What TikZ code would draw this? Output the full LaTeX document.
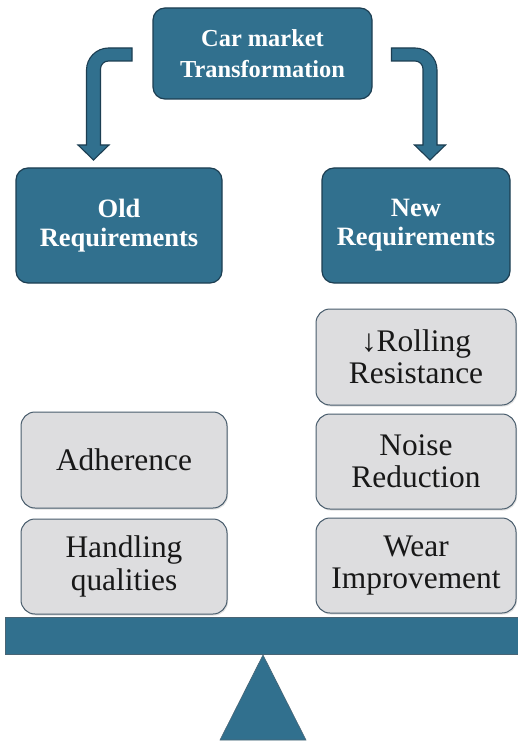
\documentclass[tikz,border=0pt]{standalone}
\usepackage{fontspec}
\setmainfont{Liberation Serif}
\usetikzlibrary{shadows}
\definecolor{steel}{RGB}{49,112,142}
\definecolor{steeldark}{RGB}{28,62,82}
\definecolor{panel}{RGB}{221,221,223}
\definecolor{panelline}{RGB}{72,92,108}
\definecolor{ink}{RGB}{24,24,24}
\begin{document}
\begin{tikzpicture}[x=1pt,y=-1pt,
  headbox/.style={rectangle, rounded corners=12pt, fill=steel, draw=steeldark,
    line width=1.2pt, text=white, align=center, inner sep=0pt},
  itembox/.style={rectangle, rounded corners=14pt, fill=panel, draw=panelline,
    line width=1pt, text=ink, align=center, inner sep=0pt,
    drop shadow={opacity=0.25, shadow xshift=1pt, shadow yshift=-1.5pt},
    font=\fontsize{31.4}{32.5}\selectfont},
  blockarrow/.style={fill=steel, draw=steeldark, line width=1.1pt, line join=miter},
  base/.style={fill=steel, draw=steeldark!80, line width=0.6pt}]
\useasboundingbox (0,0) rectangle (518,743);
\fill[white] (0,0) rectangle (518,743);

% header boxes
\node[headbox, minimum width=219, minimum height=91,
  font=\fontsize{24.4}{30.6}\selectfont\bfseries] (market) at (262.5,53.5)
  {Car market\\Transformation};
\node[headbox, minimum width=206, minimum height=115,
  font=\fontsize{26.5}{29}\selectfont\bfseries] (old) at (119,225.5)
  {Old\\Requirements};
\node[headbox, minimum width=188, minimum height=115,
  font=\fontsize{26.5}{29}\selectfont\bfseries] (new) at (416,225.5)
  {New\\Requirements};

% bent block arrows from the header to both requirement boxes
\draw[blockarrow] (132,48) -- (108.5,48) .. controls (96.4,48) and (86.5,57.9) .. (86.5,70)
  -- (86.5,145) -- (78,145) -- (93.5,160) -- (109,145) -- (100.5,145) -- (100.5,69)
  .. controls (100.5,64.6) and (104.1,61) .. (108.5,61) -- (132,61) -- cycle;
\draw[blockarrow] (391.5,48) -- (415,48) .. controls (427.1,48) and (437,57.9) .. (437,70)
  -- (437,145) -- (445.5,145) -- (430,160) -- (414.5,145) -- (423,145) -- (423,69)
  .. controls (423,64.6) and (419.4,61) .. (415,61) -- (391.5,61) -- cycle;

% balance: fulcrum and beam
\draw[base] (263,655) -- (306,740) -- (220,740) -- cycle;
\node[base, rectangle, minimum width=513, minimum height=37, inner sep=0pt] (beam) at (261.5,635.5) {};

% old requirements on the left pan
\node[itembox, minimum width=206, minimum height=96] (adh) at (124,460) {Adherence};
\node[itembox, minimum width=206, minimum height=95] (hand) at (124,566.5) {Handling\\qualities};

% new requirements on the right pan
\node[itembox, minimum width=200, minimum height=96] (roll) at (416,357) {\symbol{"2193}Rolling\\Resistance};
\node[itembox, minimum width=200, minimum height=95] (noise) at (416,461.5) {Noise\\Reduction};
\node[itembox, minimum width=200, minimum height=95] (wear) at (416,565.5) {Wear\\Improvement};
\end{tikzpicture}
\end{document}
